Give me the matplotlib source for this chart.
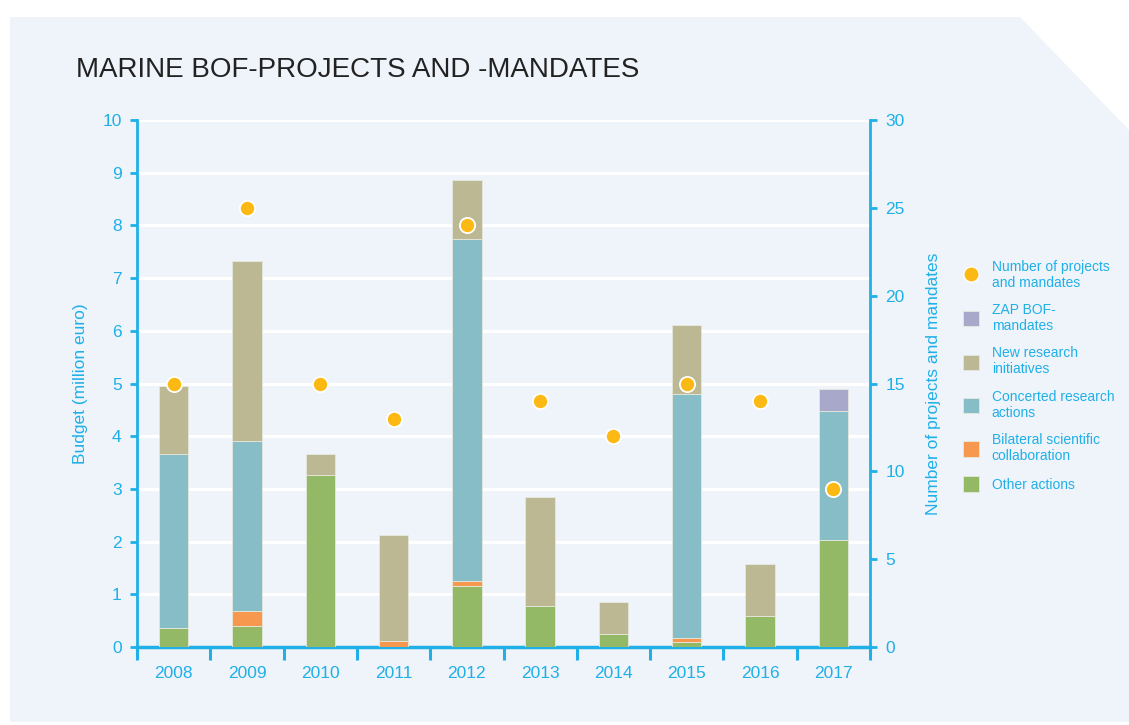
import matplotlib
matplotlib.use("Agg")
import matplotlib.pyplot as plt
from matplotlib.patches import Polygon
from matplotlib.lines import Line2D
import numpy as np

years = ["2008", "2009", "2010", "2011", "2012", "2013", "2014", "2015", "2016", "2017"]
other_actions = [0.36, 0.40, 3.27, 0.0, 1.16, 0.77, 0.25, 0.10, 0.59, 2.03]
bilateral = [0.0, 0.28, 0.0, 0.11, 0.09, 0.0, 0.0, 0.07, 0.0, 0.0]
concerted = [3.31, 3.22, 0.0, 0.0, 6.49, 0.0, 0.0, 4.64, 0.0, 2.45]
new_research = [1.28, 3.43, 0.39, 2.01, 1.12, 2.08, 0.60, 1.30, 0.99, 0.0]
zap = [0.0, 0.0, 0.0, 0.0, 0.0, 0.0, 0.0, 0.0, 0.0, 0.42]
n_projects = [15, 25, 15, 13, 24, 14, 12, 15, 14, 9]

series = [
    ("Other actions", other_actions, "#93b966"),
    ("Bilateral scientific\ncollaboration", bilateral, "#f7984f"),
    ("Concerted research\nactions", concerted, "#86bdc6"),
    ("New research\ninitiatives", new_research, "#bcb893"),
    ("ZAP BOF-\nmandates", zap, "#a8a8cb"),
]

CYAN = "#1fb0e8"
BG = "#eff3fa"
FONT = ["Liberation Sans", "DejaVu Sans"]
plt.rcParams["font.family"] = FONT

fig = plt.figure(figsize=(11.29, 7.25), dpi=100)
fig.patch.set_facecolor("white")
W, H = 1129, 725
poly = [(10, 17), (1020, 17), (1129, 130), (1129, 722), (10, 722)]
fig.patches.append(Polygon([(x / W, 1 - y / H) for x, y in poly], closed=True,
                           transform=fig.transFigure, facecolor=BG, edgecolor="none", zorder=-10))

ax = fig.add_axes([137 / W, 1 - 647 / H, (870 - 137) / W, (647 - 120) / H])
ax.set_facecolor("none")
x = np.arange(len(years))
bottom = np.zeros(len(years))
handles = {}
for label, vals, col in series:
    vals = np.array(vals)
    b = ax.bar(x, vals, width=0.4, bottom=bottom, color=col, edgecolor="#e6e8dc",
               linewidth=0.6, zorder=3)
    handles[label] = b
    bottom = bottom + vals

ax.set_xlim(-0.5, len(years) - 0.5)
ax.set_ylim(0, 10)
ax.set_yticks(range(0, 11))
ax.yaxis.grid(True, color="white", linewidth=2.2, zorder=0)
ax.set_axisbelow(True)
ax.set_xticks(np.arange(-0.5, len(years)), minor=False)
ax.set_xticklabels([])
ax.set_xticks(x, minor=True)
ax.set_xticklabels(years, minor=True)
ax.tick_params(axis="x", which="major", direction="out", length=9, width=2.2, color=CYAN)
ax.tick_params(axis="x", which="minor", length=0, pad=14, labelsize=12.5, labelcolor=CYAN)
ax.tick_params(axis="y", direction="out", length=5, width=2, color=CYAN, labelsize=12.5,
               labelcolor=CYAN, pad=6)
for s in ["top", "right"]:
    ax.spines[s].set_visible(False)
ax.spines["left"].set_color(CYAN)
ax.spines["left"].set_linewidth(2)
ax.spines["bottom"].set_color(CYAN)
ax.spines["bottom"].set_linewidth(2.5)
ax.set_ylabel("Budget (million euro)", color=CYAN, fontsize=12.5, labelpad=10)

ax2 = ax.twinx()
ax2.set_ylim(0, 30)
ax2.set_yticks(range(0, 31, 5))
for s in ["top", "left", "bottom"]:
    ax2.spines[s].set_visible(False)
ax2.spines["right"].set_color(CYAN)
ax2.spines["right"].set_linewidth(2)
ax2.tick_params(axis="y", direction="out", length=5, width=2, color=CYAN, labelsize=12.5,
                labelcolor=CYAN, pad=6)
ax2.set_ylabel("Number of projects and mandates", color=CYAN, fontsize=12.5, labelpad=15)
pts = ax2.scatter(x, n_projects, s=120, color="#fdb913", edgecolors="white",
                  linewidths=1.3, zorder=5)

fig.text(76 / W, 1 - 70 / H, "MARINE BOF-PROJECTS AND -MANDATES", fontsize=20,
         color="#222222", va="center", ha="left",
         family=["Liberation Sans Narrow", "Liberation Sans", "DejaVu Sans"])

leg_handles = [Line2D([], [], marker="o", linestyle="none", markersize=11,
                      markerfacecolor="#fdb913", markeredgecolor="white")]
leg_labels = ["Number of projects\nand mandates"]
for label, vals, col in reversed(series):
    leg_handles.append(handles[label])
    leg_labels.append(label)
leg = fig.legend(leg_handles, leg_labels, loc="upper left",
                 bbox_to_anchor=(950 / W, 1 - 247 / H), frameon=False,
                 fontsize=10, labelcolor=CYAN, handlelength=1.2, handleheight=1.3,
                 handletextpad=0.9, labelspacing=0.95)

fig.savefig("out.png", dpi=100, facecolor="white")
